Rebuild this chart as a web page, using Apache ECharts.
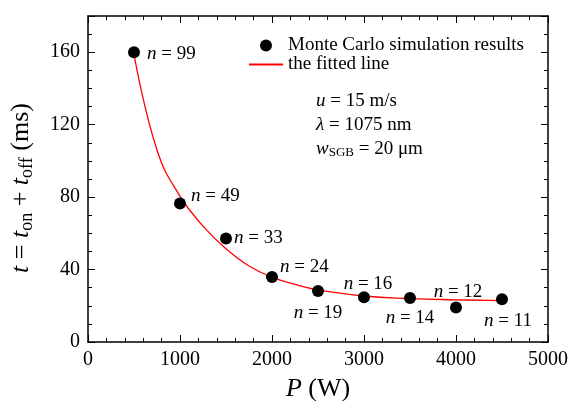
<!DOCTYPE html>
<html>
<head>
<meta charset="utf-8">
<script src="https://cdn.jsdelivr.net/npm/echarts@6/dist/echarts.min.js"></script>
<style>
html, body { margin: 0; padding: 0; background: #fff; }
#chart { width: 570px; height: 401px; }
</style>
</head>
<body>
<div id="chart"></div>
<script>
// laser power (W) and response time (ms) from the Monte Carlo runs
var powers = [500, 1000, 1500, 2000, 2500, 3000, 3500, 4000, 4500];
var times = [160, 76.5, 57.2, 35.9, 28.2, 24.7, 24.3, 19.0, 23.6];
var nValues = [99, 49, 33, 24, 19, 16, 14, 12, 11];

// fitted curve
var fitP = [500, 750, 1000, 1250, 1500, 1750, 2000, 2250, 2500, 3000, 3500, 4000, 4500];
var fitT = [159, 106, 80.5, 64, 51.5, 42, 35.8, 31.8, 28.8, 25.4, 24, 23.3, 22.8];

var xTicks = [0, 1000, 2000, 3000, 4000, 5000];
var yTicks = [0, 40, 80, 120, 160];

var serif = '"Liberation Serif", "DejaVu Serif", serif';

// where each n label sits around its point
var labelSpots = [
    {position: 'right', distance: 7, offset: [0, 2]},
    {position: 'right', distance: 5, offset: [0, -7]},
    {position: 'right', distance: 2, offset: [0, 0]},
    {position: 'right', distance: 2, offset: [0, -10]},
    {position: 'bottom', distance: 7, offset: [0, 0]},
    {position: 'top', distance: -2, offset: [4, 0]},
    {position: 'bottom', distance: 5, offset: [0, 0]},
    {position: 'top', distance: 0, offset: [2, 0]},
    {position: 'bottom', distance: 6, offset: [6, 0]}
];

var pointData = [];
for (var i = 0; i < powers.length; i++) {
    var spot = labelSpots[i];
    pointData.push({
        value: [powers[i], times[i]],
        n: nValues[i],
        label: {position: spot.position, distance: spot.distance, offset: spot.offset}
    });
}
var fitData = [];
for (var j = 0; j < fitP.length; j++) {
    fitData.push([fitP[j], fitT[j]]);
}

function tickLabel(vals) {
    return {
        customValues: vals,
        formatter: function (v) { return String(v); },
        fontFamily: serif, fontSize: 20, color: '#000', margin: 8
    };
}
var axisLine = {show: true, onZero: false, lineStyle: {color: '#000', width: 1.5}};
var majorTick = {inside: true, length: 7, lineStyle: {color: '#000'}};

var option = {
    animation: false,
    grid: {left: 88, right: 22, top: 16, bottom: 59, outerBoundsMode: 'none'},
    legend: {
        orient: 'vertical',
        left: 243,
        top: 31,
        itemWidth: 34,
        itemHeight: 12,
        itemGap: 0,
        textStyle: {fontFamily: serif, fontSize: 19, color: '#000', lineHeight: 17},
        data: [
            {name: 'Monte Carlo simulation results', icon: 'circle'},
            {name: 'the fitted line', itemStyle: {opacity: 0}}
        ]
    },
    xAxis: [{
        type: 'value',
        min: 0, max: 5000, interval: 1000,
        name: '{i|P} (W)',
        nameLocation: 'middle',
        nameGap: 34,
        nameTextStyle: {
            fontFamily: serif, fontSize: 26, color: '#000',
            rich: {i: {fontFamily: serif, fontSize: 26, fontStyle: 'italic', color: '#000'}}
        },
        axisLine: axisLine,
        axisTick: majorTick,
        minorTick: {show: true, splitNumber: 5, length: 4, lineStyle: {color: '#000'}},
        splitLine: {show: false},
        axisLabel: tickLabel(xTicks)
    }, {
        type: 'value', position: 'top',
        min: 0, max: 5000, interval: 1000,
        axisLine: axisLine,
        axisTick: majorTick,
        minorTick: {show: true, splitNumber: 5, length: 4, lineStyle: {color: '#000'}},
        splitLine: {show: false},
        axisLabel: {show: false}
    }],
    yAxis: [{
        type: 'value',
        min: 0, max: 180, interval: 40,
        name: '{i|t} = {i|t}{s|on} + {i|t}{s|off} (ms)',
        nameLocation: 'middle',
        nameRotate: 90,
        nameGap: 52,
        nameTextStyle: {
            fontFamily: serif, fontSize: 26, color: '#000',
            padding: [0, 18, 0, 0],
            rich: {
                i: {fontFamily: serif, fontSize: 26, fontStyle: 'italic', color: '#000'},
                s: {fontFamily: serif, fontSize: 18, color: '#000', padding: [12, 0, 0, 0]}
            }
        },
        axisLine: axisLine,
        axisTick: majorTick,
        minorTick: {show: true, splitNumber: 4, length: 4, lineStyle: {color: '#000'}},
        splitLine: {show: false},
        axisLabel: tickLabel(yTicks)
    }, {
        type: 'value', position: 'right',
        min: 0, max: 180, interval: 40,
        axisLine: axisLine,
        axisTick: majorTick,
        minorTick: {show: true, splitNumber: 4, length: 4, lineStyle: {color: '#000'}},
        splitLine: {show: false},
        axisLabel: {show: false}
    }],
    graphic: [{
        type: 'text',
        left: 316,
        top: 89,
        style: {
            text: '{i|u} = 15 m/s\n{i|λ} = 1075 nm\n{i|w}{s|SGB} = 20 μm',
            font: '19px ' + serif,
            fill: '#000',
            lineHeight: 24,
            rich: {
                i: {fontFamily: serif, fontSize: 19, fontStyle: 'italic', fill: '#000'},
                s: {fontFamily: serif, fontSize: 13, fill: '#000', padding: [8, 0, 0, 0]}
            }
        }
    }],
    series: [{
        name: 'the fitted line',
        type: 'line',
        data: fitData,
        smooth: 0.45,
        symbol: 'none',
        lineStyle: {color: '#ff0000', width: 1.3},
        itemStyle: {color: '#ff0000'},
        z: 2
    }, {
        name: 'Monte Carlo simulation results',
        type: 'scatter',
        data: pointData,
        symbol: 'circle',
        symbolSize: 12,
        itemStyle: {color: '#000', opacity: 1},
        z: 3,
        label: {
            show: true,
            formatter: function (p) { return '{i|n} = ' + p.data.n; },
            fontFamily: serif,
            fontSize: 19,
            color: '#000',
            rich: {i: {fontFamily: serif, fontSize: 19, fontStyle: 'italic', color: '#000'}}
        }
    }]
};

var myChart = echarts.init(document.getElementById('chart'));
myChart.setOption(option);
</script>
</body>
</html>
